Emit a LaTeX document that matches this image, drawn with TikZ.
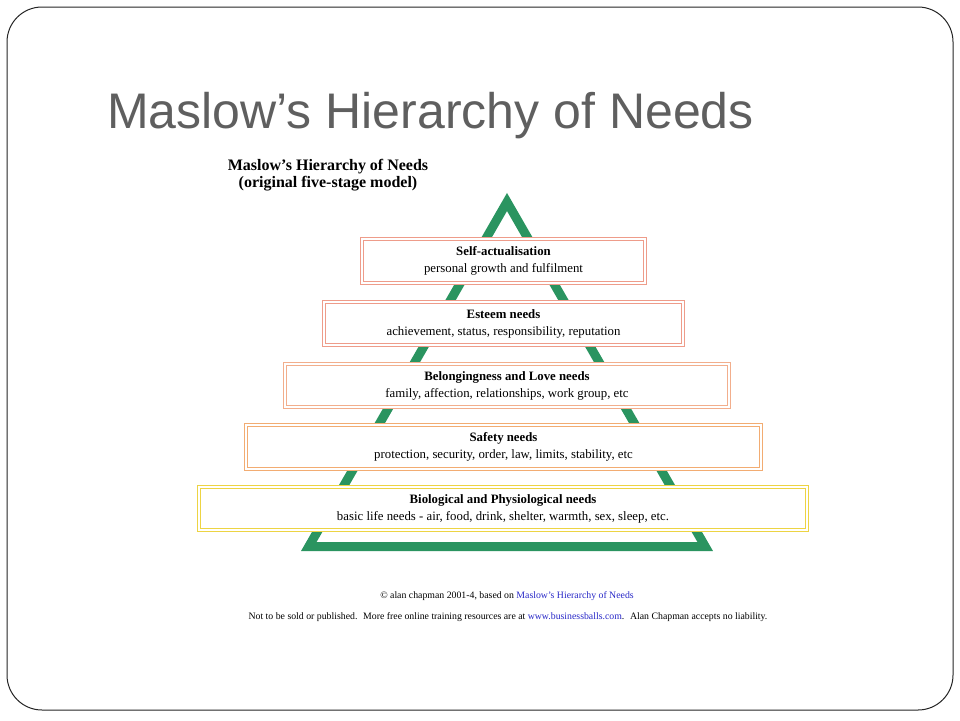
\documentclass[tikz,border=0pt]{standalone}
\usepackage{fontspec}
\setmainfont{Liberation Serif}
\newfontfamily\titlefont{Liberation Sans}

\definecolor{pyrgreen}{HTML}{2A9460}
\definecolor{salmon}{HTML}{EE9C8A}
\definecolor{peach}{HTML}{F2AE8C}
\definecolor{apricot}{HTML}{F2AC72}
\definecolor{straw}{HTML}{EDD443}
\definecolor{linkblue}{HTML}{2828C8}
\definecolor{titlegray}{HTML}{5F5F5F}

\begin{document}
\begin{tikzpicture}[x=1pt,y=-1pt,
  needbox/.style={draw=#1, double=white, double distance=1.8pt, line width=1.2pt,
    fill=white, minimum height=43.5pt, inner sep=0pt, align=center,
    font=\fontsize{12.8}{17}\selectfont}]
  \useasboundingbox (0,0) rectangle (960,720);
  \fill[white] (0,0) rectangle (960,720);

  % Slide frame and title
  \draw[line width=1pt, black!85, rounded corners=35pt] (7,7) rectangle (953,710);
  \node[anchor=base west, inner sep=0pt, text=titlegray,
    font=\titlefont\fontsize{50}{60}\selectfont] (title) at (107,128)
    {Maslow’s Hierarchy of Needs};

  % Heading of the diagram
  \node[align=center, font=\bfseries\fontsize{16}{17.5}\selectfont] (heading) at (328,175)
    {Maslow's Hierarchy of Needs\\(original five-stage model)};

  % Green pyramid behind the boxes
  \coordinate (apex) at (507,202);
  \coordinate (baseR) at (705.2,546.5);
  \coordinate (baseL) at (308.8,546.5);
  \draw[pyrgreen, line width=9pt] (apex) -- (baseR) -- (baseL) -- cycle;

  % The five stages
  \node[needbox=salmon, minimum width=283pt] (selfact) at (503.5,261)
    {\textbf{Self-actualisation}\\personal growth and fulfilment};
  \node[needbox=salmon, minimum width=359pt] (esteem) at (503.5,323.5)
    {\textbf{Esteem needs}\\achievement, status, responsibility, reputation};
  \node[needbox=peach, minimum width=444pt] (belong) at (507,385.5)
    {\textbf{Belongingness and Love needs}\\family, affection, relationships, work group, etc};
  \node[needbox=apricot, minimum width=515pt] (safety) at (503.5,447)
    {\textbf{Safety needs}\\protection, security, order, law, limits, stability, etc};
  \node[needbox=straw, minimum width=608pt] (bio) at (503,508.5)
    {\textbf{Biological and Physiological needs}\\basic life needs - air, food, drink, shelter, warmth, sex, sleep, etc.};

  % Credits
  \node[font=\fontsize{9.8}{11}\selectfont] (credit) at (507,596)
    {© alan chapman 2001-4, based on \textcolor{linkblue}{Maslow's Hierarchy of Needs}};
  \node[font=\fontsize{9.8}{11}\selectfont] (notice) at (508,617)
    {Not to be sold or published.~ More free online training resources are at
     \textcolor{linkblue}{www.businessballs.com}.~ Alan Chapman accepts no liability.};
\end{tikzpicture}
\end{document}
